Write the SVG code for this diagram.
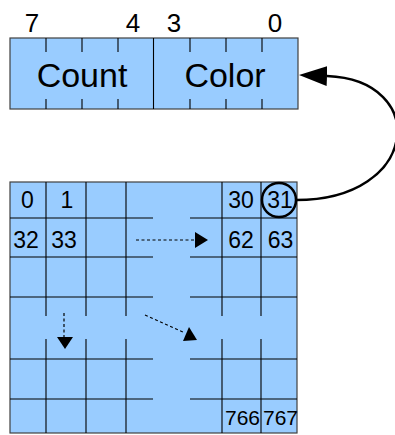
<svg xmlns="http://www.w3.org/2000/svg" width="395" height="435" viewBox="0 0 395 435">
  <style>
    .box { fill: #99ccff; stroke: #404040; stroke-width: 1.2; }
    .ln { stroke: #000; stroke-width: 1.1; fill: none; }
    .t { font-family: "Liberation Sans", Arial, sans-serif; fill: #000; text-anchor: middle; }
    .dash { stroke: #000; stroke-width: 1.2; stroke-dasharray: 3 2.5; fill: none; }
    .head { fill: #000; }
  </style>
  <defs>
    <marker id="bigArrow" viewBox="0 0 28 20" refX="0" refY="10" markerWidth="28" markerHeight="20" markerUnits="userSpaceOnUse" orient="auto">
      <path d="M0,0 L28,10 L0,20 Z" fill="#000"/>
    </marker>
  </defs>
  <rect width="395" height="435" fill="#fff"/>

  <g id="byte">
    <rect class="box" x="10" y="38" width="288" height="71"/>
    <line class="ln" x1="153.5" y1="38" x2="153.5" y2="109"/>
    <path class="ln" d="M46,38V52M82,38V52M118,38V52M190,38V52M226,38V52M262,38V52M46,99V109M82,99V109M118,99V109M190,99V109M226,99V109M262,99V109"/>
    <text class="t" x="32" y="32" font-size="26">7</text>
    <text class="t" x="133" y="32" font-size="26">4</text>
    <text class="t" x="174" y="32" font-size="26">3</text>
    <text class="t" x="275" y="32" font-size="26">0</text>
    <text class="t" x="82" y="87" font-size="34">Count</text>
    <text class="t" x="225" y="87" font-size="34">Color</text>
  </g>

  <g id="grid">
    <rect class="box" x="10" y="182" width="287" height="251"/>
    <path class="ln" d="M10,218H153M10,257H153M10,297H153M10,359H153M10,399H153M190,218H297M190,257H297M190,297H297M190,359H297M190,399H297"/>
    <path class="ln" d="M46,182V316M86,182V316M126,182V316M222,182V316M261,182V316M46,339V433M86,339V433M126,339V433M222,339V433M261,339V433"/>
    <text class="t" x="27.5" y="208" font-size="23">0</text>
    <text class="t" x="67" y="208" font-size="23">1</text>
    <text class="t" x="26" y="248" font-size="23">32</text>
    <text class="t" x="64" y="248" font-size="23">33</text>
    <text class="t" x="241" y="208" font-size="23">30</text>
    <text class="t" x="280" y="208" font-size="23">31</text>
    <text class="t" x="241" y="248" font-size="23">62</text>
    <text class="t" x="280.5" y="248" font-size="23">63</text>
    <text class="t" x="242.5" y="425" font-size="21">766</text>
    <text class="t" x="280.5" y="425" font-size="21">767</text>
    <circle cx="279" cy="200" r="17" fill="none" stroke="#000" stroke-width="2.5"/>
  </g>

  <g id="connectors">
    <path d="M296,200 C420,200 430,80 327,76" fill="none" stroke="#000" stroke-width="2.5" marker-end="url(#bigArrow)"/>
    <line class="dash" x1="136" y1="240" x2="195" y2="240"/>
    <path class="head" d="M195,232 L208,240 L195,248 Z"/>
    <line class="dash" x1="64" y1="313" x2="64" y2="337"/>
    <path class="head" d="M57,337 L65,349 L73,337 Z"/>
    <line class="dash" x1="145" y1="315" x2="185" y2="333"/>
    <path class="head" d="M189,327 L197,340 L183,341 Z"/>
  </g>
</svg>
